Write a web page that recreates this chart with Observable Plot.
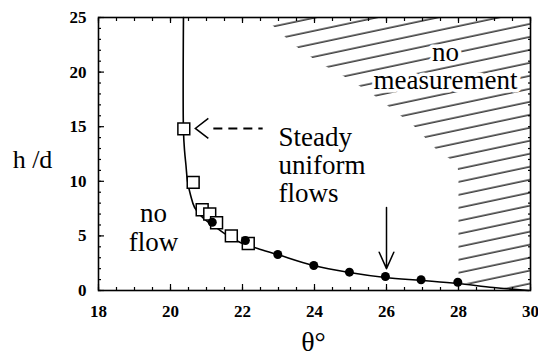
<!DOCTYPE html>
<html><head><meta charset="utf-8">
<script src="https://cdn.jsdelivr.net/npm/d3@7"></script>
<script src="https://cdn.jsdelivr.net/npm/@observablehq/plot@0.6"></script>
<style>
html,body{margin:0;padding:0;background:#fff;}
#chart svg{display:block;}
</style></head><body>
<div id="chart"></div>
<script>
// Fitted boundary curve (theta in degrees, h/d)
const curveTheta = [20.36, 20.36, 20.39, 20.43, 20.47, 20.56, 20.67, 20.92, 21.19, 21.58, 22.0, 22.42, 22.97, 23.97, 24.97, 25.97, 26.97, 27.97, 28.97, 29.94];
const curveH     = [25.0, 14.65, 12.82, 11.45, 10.07, 8.70, 7.60, 6.59, 5.95, 5.04, 4.30, 3.85, 3.30, 2.29, 1.65, 1.19, 0.92, 0.64, 0.27, 0.0];
// Open squares
const squareTheta = [20.37, 20.63, 20.88, 21.09, 21.28, 21.69, 22.16];
const squareH     = [14.8, 9.9, 7.4, 7.0, 6.2, 5.0, 4.3];
// Filled dots
const dotTheta = [21.16, 22.08, 22.98, 23.98, 24.97, 25.97, 26.96, 27.98];
const dotH     = [6.25, 4.58, 3.30, 2.29, 1.68, 1.28, 0.98, 0.76];
// "no measurement" hatched region outline
const hatchTheta = [22.6, 23.39, 24.11, 24.94, 25.64, 26.2, 26.75, 27.42, 27.97, 28.0, 28.0, 29.0, 30.0, 30.0];
const hatchH     = [25.0, 22.6, 20.9, 19.4, 17.9, 16.5, 15.1, 12.8, 11.6, 10.5, 0.76, 0.3, 0.05, 25.0];
// Ticks
const xTicks = [18, 20, 22, 24, 26, 28, 30];
const yTicks = [0, 5, 10, 15, 20, 25];
const xMinorTicks = d3.range(18, 30.001, 0.5);
const yMinorTicks = d3.range(0, 25.001, 1);
// Annotations
const annoText   = ["no\nflow", "Steady\nuniform\nflows", "no\nmeasurement"];
const annoTheta  = [19.53, 23.0, 27.64];
const annoH      = [3.66, 8.06, 18.45];
const annoAnchor = ["middle", "start", "middle"];
const annoLineH  = [1.04, 1.04, 1.04];
// Arrows
const dashArrow = {tipTheta: 20.69, startTheta: 21.19, endTheta: 22.56, h: 14.84};
const solidArrow = {theta: 26, hFrom: 7.6, hTo: 2.0};

const curve = curveTheta.map((t, i) => ({t, h: curveH[i]}));
const squares = squareTheta.map((t, i) => ({t, h: squareH[i]}));
const dots = dotTheta.map((t, i) => ({t, h: dotH[i]}));
const hatch = hatchTheta.map((t, i) => ({t, h: hatchH[i]}));
const annos = annoText.map((s, i) => ({s, t: annoTheta[i], h: annoH[i], a: annoAnchor[i], lh: annoLineH[i]}));

const chevronLeft = {draw(context, size) {
  const r = Math.sqrt(size / Math.PI);
  context.moveTo(r, -r * 0.77); context.lineTo(0, 0); context.lineTo(r, r * 0.77);
}};

const serif = "Liberation Serif";
const tickLabel = {fontSize: 17, fontWeight: "bold", fontFamily: serif, label: null};
const noText = {tickFormat: () => "", label: null, strokeWidth: 1.2};

const plot = Plot.plot({
  width: 538, height: 358,
  marginLeft: 98, marginRight: 8, marginTop: 17, marginBottom: 68,
  x: {domain: [18, 30]},
  y: {domain: [0, 25]},
  style: {fontFamily: serif, background: "white", color: "black"},
  marks: [
    Plot.line(hatch, {x: "t", y: "h", fill: "url(#hatch)", stroke: "none"}),
    Plot.frame({strokeWidth: 1.6}),
    // inward ticks
    Plot.axisX(xMinorTicks, {anchor: "bottom", tickSize: -3, ...noText}),
    Plot.axisX(xTicks, {anchor: "bottom", tickSize: -6, ...noText}),
    Plot.axisX(xMinorTicks, {anchor: "top", tickSize: -3, ...noText}),
    Plot.axisX(xTicks, {anchor: "top", tickSize: -5, ...noText}),
    Plot.axisY(yMinorTicks, {anchor: "left", tickSize: -3, ...noText}),
    Plot.axisY(yTicks, {anchor: "left", tickSize: -6, ...noText}),
    Plot.axisY(yMinorTicks, {anchor: "right", tickSize: -3, ...noText}),
    // tick labels
    Plot.axisX(xTicks, {anchor: "bottom", tickSize: 0, tickPadding: 14, ...tickLabel}),
    Plot.axisY(yTicks, {anchor: "left", tickSize: 0, tickPadding: 12, ...tickLabel}),
    // curve and data
    Plot.line(curve, {x: "t", y: "h", curve: "catmull-rom", stroke: "black", strokeWidth: 1.6}),
    Plot.dot(squares, {x: "t", y: "h", symbol: "square", r: 6.7, fill: "white", stroke: "black", strokeWidth: 1.5}),
    Plot.dot(dots, {x: "t", y: "h", r: 4.5, fill: "black", stroke: "none"}),
    // arrows
    Plot.link([dashArrow], {x1: "startTheta", x2: "endTheta", y1: "h", y2: "h", stroke: "black", strokeWidth: 2, strokeDasharray: "9,6"}),
    Plot.dot([dashArrow], {x: "tipTheta", y: "h", symbol: chevronLeft, r: 13, fill: "none", stroke: "black", strokeWidth: 1.5}),
    Plot.arrow([solidArrow], {x: "theta", y1: "hFrom", y2: "hTo", stroke: "black", strokeWidth: 1.5, headLength: 18, headAngle: 48}),
    // annotations
    ...annos.map(d => Plot.text([d], {x: "t", y: "h", text: "s", textAnchor: d.a, lineAnchor: "bottom", lineHeight: d.lh,
      fontSize: 27, fontFamily: serif, fill: "black", stroke: "white", strokeWidth: 7, paintOrder: "stroke"})),
    // axis titles
    Plot.text(["h /d"], {frameAnchor: "left", dx: -66, dy: 14, textAnchor: "middle", lineAnchor: "bottom", fontSize: 26, fontFamily: serif, fill: "black"}),
    Plot.text(["θ°"], {frameAnchor: "bottom", dx: -1, dy: 60, textAnchor: "middle", lineAnchor: "bottom", fontSize: 28, fontFamily: serif, fill: "black"})
  ]
});

const ns = "http://www.w3.org/2000/svg";
const defs = document.createElementNS(ns, "defs");
const pat = document.createElementNS(ns, "pattern");
pat.setAttribute("id", "hatch");
pat.setAttribute("patternUnits", "userSpaceOnUse");
pat.setAttribute("width", "40");
pat.setAttribute("height", "12.7");
pat.setAttribute("patternTransform", "rotate(-12)");
const ln = document.createElementNS(ns, "line");
ln.setAttribute("x1", "-5"); ln.setAttribute("x2", "45");
ln.setAttribute("y1", "6"); ln.setAttribute("y2", "6");
ln.setAttribute("stroke", "black"); ln.setAttribute("stroke-width", "1.3");
pat.appendChild(ln);
defs.appendChild(pat);
plot.insertBefore(defs, plot.firstChild);
document.getElementById("chart").appendChild(plot);
</script>
</body></html>
